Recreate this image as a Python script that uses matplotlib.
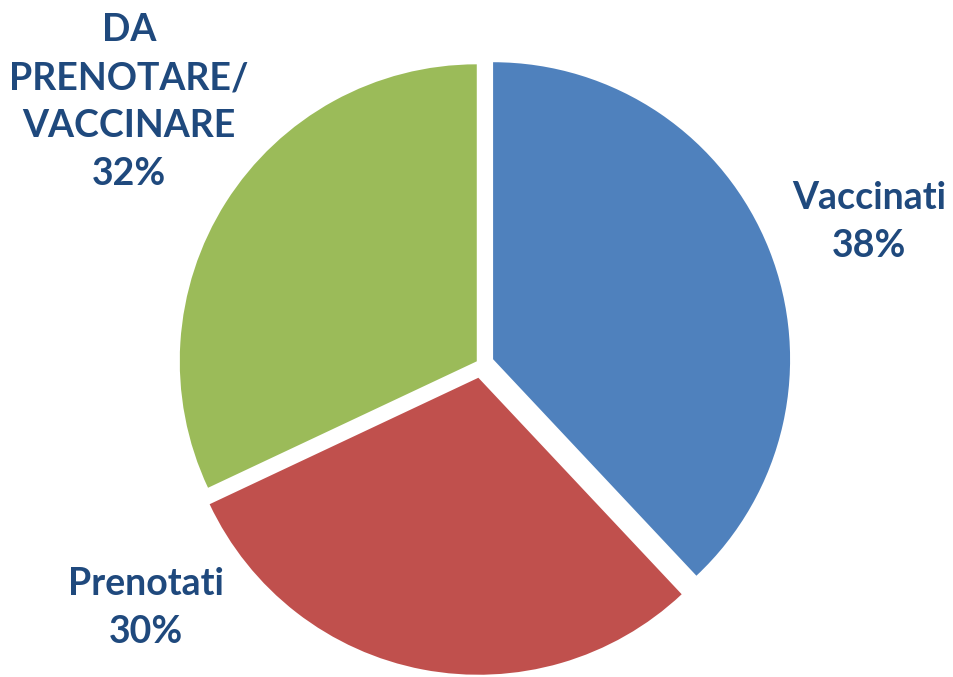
import matplotlib
matplotlib.use("Agg")
import matplotlib.pyplot as plt

# data
categories = ["Vaccinati", "Prenotati", "DA\nPRENOTARE/\nVACCINARE"]
shares = [38, 30, 32]
colors = ["#4F81BD", "#C0504D", "#9BBB59"]

W, H = 954, 677
fig = plt.figure(figsize=(W / 100, H / 100), dpi=100)
ax = fig.add_axes([0, 0, 1, 1])

radius = 297
center = (481, H - 364)
explode = [13, 14, 5]

ax.pie(shares, colors=colors, startangle=90, counterclock=False,
       radius=radius, center=center, explode=explode,
       wedgeprops=dict(linewidth=0))

ax.set_xlim(0, W)
ax.set_ylim(0, H)
ax.set_aspect("equal")
ax.axis("off")

# label positions (pixel coords, y from top)
label_pos = [(869, 222), (146, 608), (129, 102)]
for name, val, (x, y) in zip(categories, shares, label_pos):
    ax.text(x, H - y, f"{name}\n{val}%", ha="center", va="center",
            fontsize=27, fontweight="bold", family="Lato",
            color="#1F497D", linespacing=1.5)

fig.savefig("out.png", dpi=100)
